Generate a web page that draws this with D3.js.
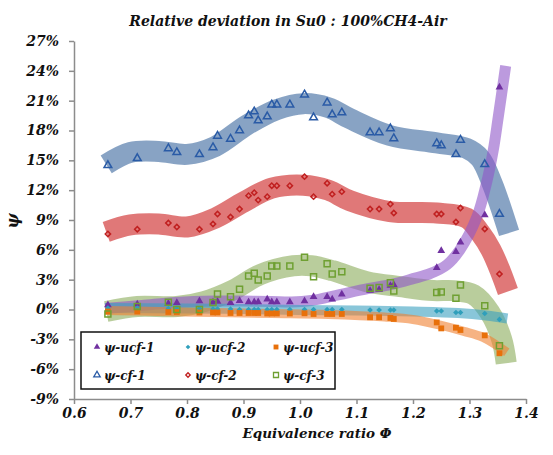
<!DOCTYPE html>
<head>
<meta charset="UTF-8">
<script src="https://cdn.jsdelivr.net/npm/d3@7"></script>
<style>
body { margin: 0; background: #fff; }
svg { display: block; }
text { font-family: "DejaVu Serif", serif; font-weight: bold; font-style: italic; fill: #111; }
.axis path, .axis line { stroke: #8c8c8c; stroke-width: 1.5px; }
.axis text { font-size: 14px; }
.band { fill: none; stroke-linecap: butt; stroke-linejoin: round; }
</style>
</head>
<body>
<script>

var width = 553,
    height = 455;

// equivalence ratio of the measured points
var phi = [0.66, 0.712, 0.767, 0.782, 0.822, 0.846, 0.854, 0.877, 0.893, 0.909, 0.919, 0.926, 0.942, 0.95, 0.959, 0.982,
           1.008, 1.024, 1.048, 1.057, 1.074, 1.124, 1.14, 1.16, 1.166, 1.242, 1.25, 1.276, 1.284, 1.327, 1.353];

// deviations in %
var ucf1 = [0.45, 0.52, 0.6, 0.68, 0.85, 0.72, 0.8, 0.68, 0.89, 0.75, 0.75, 0.75, 1.03, 0.75, 0.75, 0.75,
            0.85, 1.29, 1.29, 1.03, 1.53, 1.9, 2.0, 2.4, 2.5, 4.2, 5.9, 5.8, 6.76, 9.5, 22.35];
var ucf2 = [0.15, 0.15, 0.1, 0.1, 0.1, 0.05, 0.05, 0.05, 0.0, 0.0, 0.0, 0.0, 0.0, 0.0, 0.0, 0.0,
            0.0, 0.0, 0.0, 0.0, 0.0, -0.05, -0.05, -0.05, -0.05, -0.15, -0.15, -0.3, -0.3, -0.4, -1.0];
var ucf3 = [-0.2, -0.2, -0.25, -0.25, -0.3, -0.3, -0.3, -0.35, -0.35, -0.35, -0.35, -0.35, -0.4, -0.4, -0.4, -0.4,
            -0.38, -0.45, -0.45, -0.45, -0.45, -0.78, -0.78, -0.85, -0.95, -1.3, -1.9, -1.83, -2.06, -2.6, -4.4];
var cf1 = [14.5, 15.2, 16.2, 15.8, 15.6, 16.3, 17.45, 17.15, 18.0, 19.5, 19.9, 19.0, 19.4, 20.6, 20.6, 20.6,
           21.6, 19.3, 20.8, 19.6, 19.8, 17.8, 17.8, 18.2, 17.2, 16.7, 16.5, 15.6, 17.05, 14.6, 9.6];
var cf2 = [7.6, 8.07, 8.7, 8.3, 8.07, 8.6, 9.6, 9.3, 10.1, 11.45, 11.75, 11.0, 11.35, 12.45, 12.45, 12.45,
           13.36, 11.35, 12.7, 11.6, 11.85, 10.1, 10.1, 10.6, 9.7, 9.6, 9.6, 8.8, 10.2, 8.1, 3.57];
var cf3 = [-0.45, 0.3, 0.72, 0.0, 0.0, 0.7, 1.56, 1.29, 2.03, 3.37, 3.64, 2.97, 3.37, 4.38, 4.38, 4.38,
           5.25, 3.3, 4.6, 3.57, 3.8, 2.13, 2.2, 2.7, 1.86, 1.7, 1.76, 1.13, 2.46, 0.38, -3.64];

// trend bands [phi, %]
var bandUcf1 = [[0.655, 0.1], [0.72, 0.4], [0.78, 0.7], [0.85, 0.85], [0.9, 0.85], [0.95, 0.8], [0.985, 0.75],
                [1.02, 0.9], [1.07, 1.5], [1.12, 2.1], [1.16, 2.5], [1.2, 3.1], [1.23, 3.6], [1.26, 4.5],
                [1.283, 6.0], [1.313, 9.3], [1.33, 12.7], [1.342, 16.0], [1.351, 19.4], [1.364, 24.5]];
var bandUcf2 = [[0.655, 0.15], [0.8, 0.1], [0.9, 0.05], [1.0, -0.05], [1.1, -0.1], [1.2, -0.2],
                [1.28, -0.35], [1.33, -0.6], [1.367, -0.9]];
var bandUcf3 = [[0.655, -0.1], [0.75, -0.2], [0.85, -0.3], [0.95, -0.4], [1.05, -0.5], [1.15, -0.75],
                [1.2, -1.0], [1.25, -1.6], [1.29, -2.2], [1.324, -2.8], [1.366, -4.3]];
var bandCf1 = [[0.657, 14.6], [0.70, 15.8], [0.75, 15.9], [0.80, 15.6], [0.85, 16.4], [0.906, 18.55],
               [0.959, 20.1], [1.006, 20.7], [1.05, 20.3], [1.088, 19.2], [1.159, 17.5], [1.242, 16.75],
               [1.295, 16.2], [1.319, 15.2], [1.34, 12.7], [1.37, 7.7]];
var bandCf2 = [[0.657, 7.8], [0.70, 8.5], [0.75, 8.6], [0.80, 8.3], [0.85, 9.2], [0.90, 10.8], [0.95, 12.2],
               [1.006, 12.5], [1.05, 12.0], [1.088, 10.95], [1.159, 9.85], [1.242, 9.7], [1.295, 9.2],
               [1.319, 7.7], [1.338, 6.0], [1.355, 3.8], [1.368, 1.8]];
var bandCf3 = [[0.657, -0.2], [0.712, 0.3], [0.782, 0.3], [0.83, 0.8], [0.883, 2.0], [0.929, 3.5], [0.988, 4.4],
               [1.02, 4.4], [1.058, 3.9], [1.118, 2.8], [1.177, 2.3], [1.236, 1.9], [1.271, 1.9], [1.307, 1.5],
               [1.336, -0.3], [1.357, -3.0], [1.365, -5.4]];

var xTicks = [0.6, 0.7, 0.8, 0.9, 1.0, 1.1, 1.2, 1.3, 1.4];
var yTicks = [-9, -6, -3, 0, 3, 6, 9, 12, 15, 18, 21, 24, 27];

var x = d3.scaleLinear().domain([0.6, 1.4]).range([74, 526]);
var y = d3.scaleLinear().domain([-9, 27]).range([399, 41]);

var svg = d3.select("body").append("svg")
    .attr("width", width)
    .attr("height", height);

var line = d3.line()
    .x(function(d) { return x(d[0]); })
    .y(function(d) { return y(d[1]); })
    .curve(d3.curveCatmullRom.alpha(0.5));

var bands = [
    {data: bandCf1,  color: "#5a80ad", width: 21, op: 0.72},
    {data: bandCf2,  color: "#d03030", width: 21, op: 0.65},
    {data: bandCf3,  color: "#8aab5a", width: 21, op: 0.6},
    {data: bandUcf1, color: "#9057c8", width: 11, op: 0.6},
    {data: bandUcf2, color: "#3aa0c0", width: 10, op: 0.6},
    {data: bandUcf3, color: "#f08030", width: 9,  op: 0.6}
];

svg.append("g").selectAll("path")
    .data(bands)
  .enter().append("path")
    .attr("class", "band")
    .attr("d", function(d) { return line(d.data); })
    .attr("stroke", function(d) { return d.color; })
    .attr("stroke-width", function(d) { return d.width; })
    .attr("stroke-opacity", function(d) { return d.op; });

// axes
svg.append("g")
    .attr("class", "axis")
    .attr("transform", "translate(74,0)")
    .call(d3.axisLeft(y).tickValues(yTicks).tickSize(5).tickSizeOuter(0).tickPadding(10)
        .tickFormat(function(d) { return d + "%"; }));

svg.append("g")
    .attr("class", "axis")
    .attr("transform", "translate(0,399)")
    .call(d3.axisBottom(x).tickValues(xTicks).tickSize(5).tickSizeOuter(0).tickPadding(4)
        .tickFormat(d3.format(".1f")));

svg.selectAll(".axis text").attr("fill", "#111");

// markers
var series = [
    {name: "\u03c8-ucf-1", vals: ucf1, sym: d3.symbolTriangle, size: 26, fill: "#7030a0", stroke: "none", rot: 0},
    {name: "\u03c8-ucf-2", vals: ucf2, sym: d3.symbolSquare,   size: 16, fill: "#2f9fbb", stroke: "none", rot: 45},
    {name: "\u03c8-ucf-3", vals: ucf3, sym: d3.symbolSquare,   size: 34, fill: "#e8700a", stroke: "none", rot: 0},
    {name: "\u03c8-cf-1",  vals: cf1,  sym: d3.symbolTriangle, size: 26, fill: "none", stroke: "#2a5ba6", rot: 0},
    {name: "\u03c8-cf-2",  vals: cf2,  sym: d3.symbolSquare,   size: 14, fill: "none", stroke: "#c02020", rot: 45},
    {name: "\u03c8-cf-3",  vals: cf3,  sym: d3.symbolSquare,   size: 36, fill: "none", stroke: "#6fa032", rot: 0}
];

series.forEach(function(s) {
    var sym = d3.symbol().type(s.sym).size(s.size);
    svg.append("g").selectAll("path")
        .data(phi.map(function(p, i) { return [p, s.vals[i]]; }))
      .enter().append("path")
        .attr("d", sym)
        .attr("transform", function(d) {
            return "translate(" + x(d[0]) + "," + y(d[1]) + ") rotate(" + s.rot + ")";
        })
        .attr("fill", s.fill)
        .attr("stroke", s.stroke)
        .attr("stroke-width", 1.5);
});

// legend
var legend = svg.append("g");
legend.append("rect")
    .attr("x", 81).attr("y", 332)
    .attr("width", 254).attr("height", 57)
    .attr("fill", "#fff")
    .attr("stroke", "#111")
    .attr("stroke-width", 1.5);

var colX = [97, 188, 276],
    rowY = [347, 375];

series.forEach(function(s, i) {
    var lx = colX[i % 3], ly = rowY[Math.floor(i / 3)];
    legend.append("path")
        .attr("d", d3.symbol().type(s.sym).size(s.size * 0.7)())
        .attr("transform", "translate(" + lx + "," + ly + ") rotate(" + s.rot + ")")
        .attr("fill", s.fill)
        .attr("stroke", s.stroke)
        .attr("stroke-width", 1.3);
    legend.append("text")
        .attr("x", lx + 7).attr("y", ly + 5)
        .style("font-size", "12px")
        .text(s.name);
});

// titles
svg.append("text")
    .attr("x", 288).attr("y", 26)
    .attr("text-anchor", "middle")
    .style("font-size", "14px")
    .text("Relative deviation in Su0 :  100%CH4-Air");

svg.append("text")
    .attr("x", 317).attr("y", 438)
    .attr("text-anchor", "middle")
    .style("font-size", "13.5px")
    .text("Equivalence ratio \u03a6");

svg.append("text")
    .attr("transform", "translate(18,221) rotate(-90)")
    .attr("text-anchor", "middle")
    .style("font-size", "16px")
    .text("\u03c8");

</script>
</body>
